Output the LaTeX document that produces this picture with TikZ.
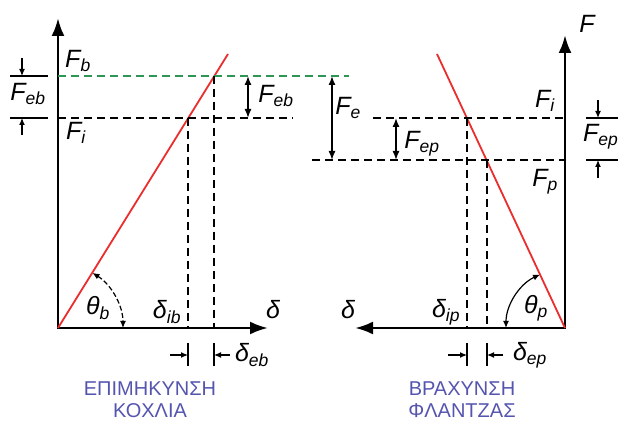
\documentclass[tikz,border=0pt]{standalone}
\usepackage{fontspec}
\setmainfont{Liberation Sans}
\usetikzlibrary{arrows.meta}
\definecolor{rotlinie}{RGB}{235,45,45}
\definecolor{gruenlinie}{RGB}{45,150,85}
\definecolor{titelblau}{RGB}{85,85,175}
\begin{document}
\begin{tikzpicture}[x=1pt, y=1pt,
  every node/.style={font=\fontsize{25}{27}\selectfont\itshape, inner sep=0pt},
  achse/.style={line width=2.8pt, {Latex[length=18pt,width=13pt]}-{Latex[length=18pt,width=13pt]}},
  kennlinie/.style={line width=1.8pt, rotlinie},
  hilfslinie/.style={line width=1.8pt, dash pattern=on 8pt off 5pt},
  masspfeil/.style={line width=1.4pt, {Latex[length=9pt,width=7pt]}-{Latex[length=9pt,width=7pt]}},
  einzelpfeil/.style={line width=1.2pt, -{Latex[length=7pt,width=6pt]}},
  winkelbogen/.style={line width=1.2pt, {Latex[length=7pt,width=6pt]}-{Latex[length=7pt,width=6pt]}},
  titel/.style={font=\fontsize{20}{22}\selectfont, text=titelblau}]
\useasboundingbox (0,0) rectangle (618,423);
% Ursprung beider Diagramme
\coordinate (O1) at (58,95);
\coordinate (O2) at (565,95);

% Achsen
\draw[achse] (58,405) -- (O1) -- (268,95);
\draw[achse] (565,388) -- (O2) -- (355,95);

% Kennlinien Schraube und Flansch
\draw[kennlinie] (O1) -- (228,369);
\draw[kennlinie] (O2) -- (437,369);

% Kraftniveaus
\draw[hilfslinie, gruenlinie] (58,347) -- (349,347);
\draw[hilfslinie] (58,305) -- (293,305);
\draw[hilfslinie] (373,305) -- (565,305);
\draw[hilfslinie] (312,263) -- (565,263);
\draw[hilfslinie] (188,305) -- (188,95);
\draw[hilfslinie] (214,347) -- (214,95);
\draw[hilfslinie] (467,305) -- (467,95);
\draw[hilfslinie] (487,263) -- (487,95);

% Masspfeile
\draw[masspfeil] (248,347) -- (248,305);
\draw[masspfeil] (332,347) -- (332,263);
\draw[masspfeil] (396,305) -- (396,263);

% seitliche Markierungen
\draw[line width=1.2pt] (10,347) -- (48,347) (10,305) -- (48,305);
\draw[einzelpfeil] (22,365) -- (22,347);
\draw[einzelpfeil] (22,288) -- (22,305);
\draw[line width=1.2pt] (586,305) -- (618,305) (586,263) -- (618,263);
\draw[einzelpfeil] (598,323) -- (598,305);
\draw[einzelpfeil] (598,245) -- (598,263);

% Verformungen unten
\draw[line width=1.2pt] (188,80) -- (188,57) (214,80) -- (214,57);
\draw[einzelpfeil] (170,68) -- (188,68);
\draw[einzelpfeil] (230,68) -- (214,68);
\draw[line width=1.2pt] (467,80) -- (467,57) (487,80) -- (487,57);
\draw[einzelpfeil] (448,68) -- (467,68);
\draw[einzelpfeil] (503,68) -- (487,68);

% Winkel
\draw[winkelbogen, dash pattern=on 5pt off 2.5pt] ([shift={(58:65)}]O1) arc[start angle=58, end angle=0, radius=65];
\draw[winkelbogen] ([shift={(115:59)}]O2) arc[start angle=115, end angle=180, radius=59];

% Beschriftungen
\node (Fb) at (78,362) {F\textsubscript{b}};
\node (Fi1) at (76,290) {F\textsubscript{i}};
\node (Feb1) at (28,329) {F\textsubscript{eb}};
\node (Feb2) at (276,327) {F\textsubscript{eb}};
\node (F) at (587,399) {F};
\node (Fe) at (348,315) {F\textsubscript{e}};
\node (Fi2) at (545,322) {F\textsubscript{i}};
\node (Fep1) at (422,279) {F\textsubscript{ep}};
\node (Fp) at (545,241) {F\textsubscript{p}};
\node[anchor=west] (Fep2) at (583,286) {F\textsubscript{ep}};
\node (thb) at (98,115) {θ\textsubscript{b}};
\node (dib) at (167,111) {δ\textsubscript{ib}};
\node (d1) at (273,113) {δ};
\node (deb) at (252,68) {δ\textsubscript{eb}};
\node (thp) at (536,115) {θ\textsubscript{p}};
\node (d2) at (348,113) {δ};
\node (dip) at (446,111) {δ\textsubscript{ip}};
\node (dep) at (530,68) {δ\textsubscript{ep}};

% Titel
\node[titel] (t1a) at (150,34) {ΕΠΙΜΗΚΥΝΣΗ};
\node[titel] (t1b) at (150,12) {ΚΟΧΛΙΑ};
\node[titel] (t2a) at (462,34) {ΒΡΑΧΥΝΣΗ};
\node[titel] (t2b) at (462,12) {ΦΛΑΝΤΖΑΣ};
\end{tikzpicture}
\end{document}
